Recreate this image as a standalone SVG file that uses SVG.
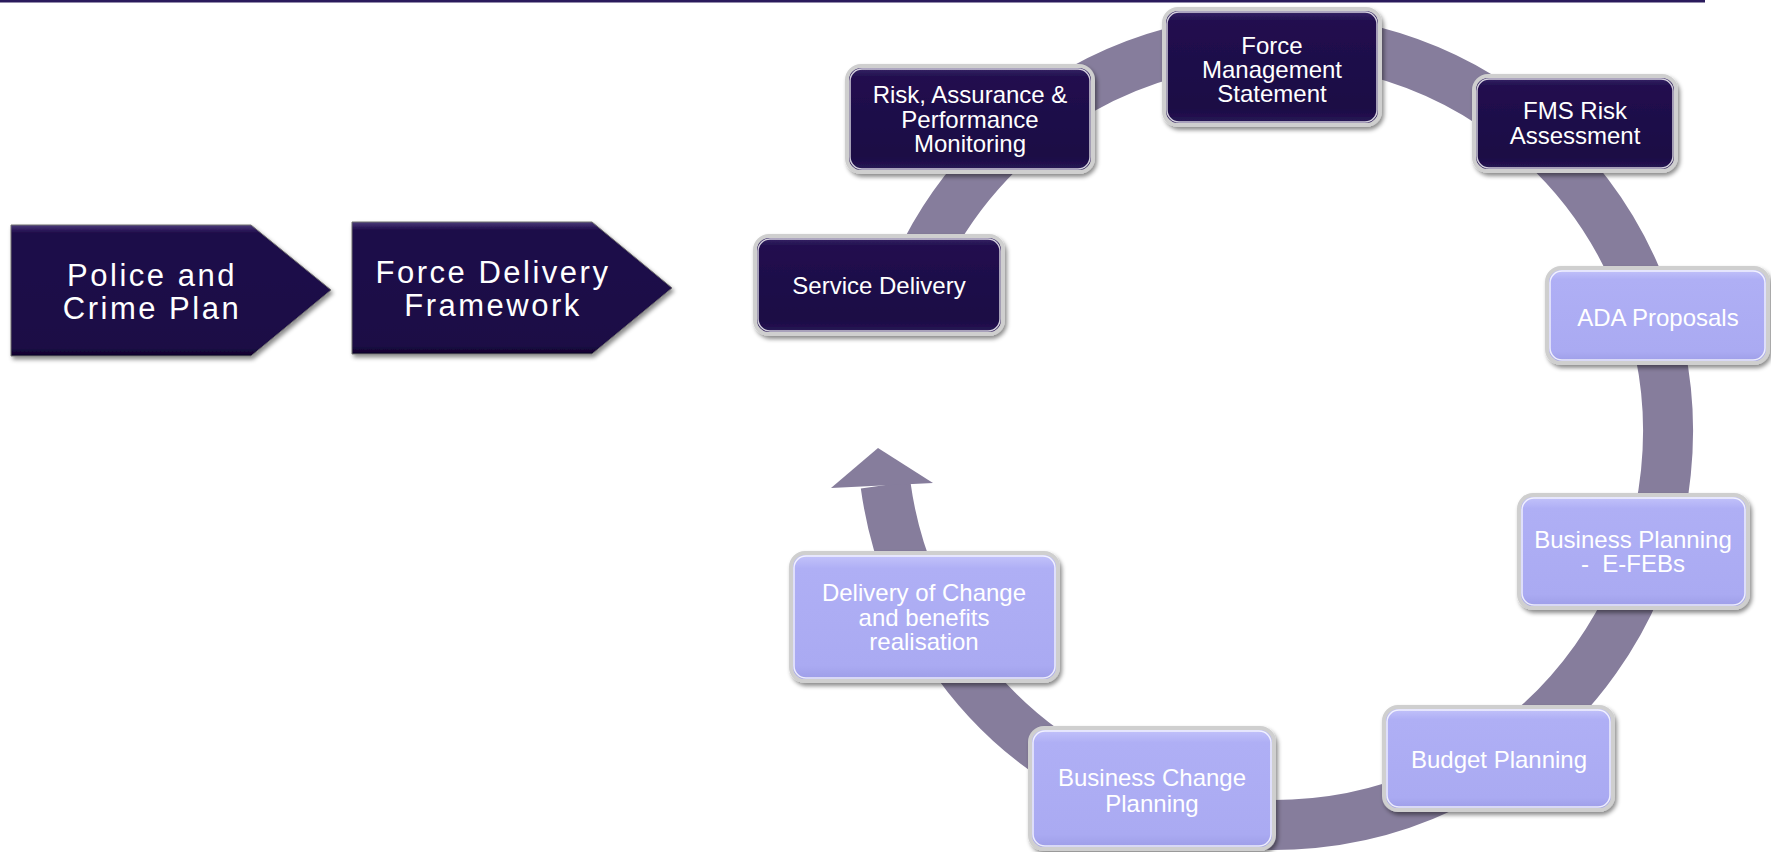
<svg xmlns="http://www.w3.org/2000/svg" width="1771" height="852" viewBox="0 0 1771 852">
<defs>
<linearGradient id="gd" x1="0" y1="0" x2="0" y2="1">
<stop offset="0" stop-color="#3b2b6c"/>
<stop offset="0.1" stop-color="#22104f"/>
<stop offset="0.85" stop-color="#1a0844"/>
<stop offset="1" stop-color="#2a1a58"/>
</linearGradient>
<linearGradient id="gl" x1="0" y1="0" x2="0" y2="1">
<stop offset="0" stop-color="#c6c6fb"/>
<stop offset="0.12" stop-color="#afaff5"/>
<stop offset="0.88" stop-color="#aaaaf2"/>
<stop offset="1" stop-color="#9c9ce6"/>
</linearGradient>
<linearGradient id="ga" x1="0" y1="0" x2="0" y2="1">
<stop offset="0" stop-color="#4a3a7a"/>
<stop offset="0.06" stop-color="#1e0b4a"/>
<stop offset="0.94" stop-color="#1b0945"/>
<stop offset="1" stop-color="#0e0428"/>
</linearGradient>
<filter id="sh" x="-10%" y="-10%" width="125%" height="130%">
<feDropShadow dx="2" dy="3" stdDeviation="2" flood-color="#000" flood-opacity="0.45"/>
</filter>
</defs>
<style>
.ring{fill:none;stroke:#867d9c;stroke-width:50}
.head{fill:#867d9c}
.bd{fill:url(#gd);stroke:#cfcfcf;stroke-width:4;filter:url(#sh)}
.bl{fill:url(#gl);stroke:#cfcfcf;stroke-width:4;filter:url(#sh)}
.rim{fill:none;stroke:#ffffff;stroke-width:1.5;opacity:0.8}
.arr{fill:url(#ga);stroke:#6e6e6e;stroke-width:1;filter:url(#sh)}
.t{font-family:"Liberation Sans",Arial,sans-serif;font-size:24px;fill:#ffffff;text-anchor:middle}
.ta{font-family:"Liberation Sans",Arial,sans-serif;font-size:31px;fill:#ffffff;text-anchor:middle;letter-spacing:2.5px}
</style>
<rect x="0" y="0" width="1705" height="2.5" fill="#2a1a5c"/>
<g id="connectors">
<path class="ring" d="M 904.8 300 A 393 393 0 1 1 885.6 485"/>
<polygon class="head" points="878,448 933,483 831,488"/>
</g>
<g id="police-crime-plan">
<polygon class="arr" points="11,225 251,225 331,290 251,356 11,356"/>
<text class="ta" x="152" y="286">Police and</text>
<text class="ta" x="152" y="319">Crime Plan</text>
</g>
<g id="force-delivery-framework">
<polygon class="arr" points="352,222 592,222 672,288 592,354 352,354"/>
<text class="ta" x="493" y="283">Force Delivery</text>
<text class="ta" x="493" y="316">Framework</text>
</g>
<g id="service-delivery">
<rect class="bd" x="755" y="236" width="248" height="98" rx="14"/>
<rect class="rim" x="758" y="239" width="242" height="92" rx="12"/>
<text class="t" x="879" y="293.5">Service Delivery</text>
</g>
<g id="risk-assurance">
<rect class="bd" x="847" y="66" width="246" height="106" rx="14"/>
<rect class="rim" x="850" y="69" width="240" height="100" rx="12"/>
<text class="t" x="970" y="103">Risk, Assurance &amp;</text>
<text class="t" x="970" y="127.5">Performance</text>
<text class="t" x="970" y="152">Monitoring</text>
</g>
<g id="force-management-statement">
<rect class="bd" x="1164" y="9" width="216" height="116" rx="14"/>
<rect class="rim" x="1167" y="12" width="210" height="110" rx="12"/>
<text class="t" x="1272" y="54">Force</text>
<text class="t" x="1272" y="78">Management</text>
<text class="t" x="1272" y="102">Statement</text>
</g>
<g id="fms-risk-assessment">
<rect class="bd" x="1474" y="76" width="202" height="95" rx="14"/>
<rect class="rim" x="1477" y="79" width="196" height="89" rx="12"/>
<text class="t" x="1575" y="119">FMS Risk</text>
<text class="t" x="1575" y="144">Assessment</text>
</g>
<g id="ada-proposals">
<rect class="bl" x="1547" y="268" width="221" height="95" rx="14"/>
<rect class="rim" x="1550" y="271" width="215" height="89" rx="12"/>
<text class="t" x="1658" y="325.5">ADA Proposals</text>
</g>
<g id="business-planning">
<rect class="bl" x="1519" y="495" width="229" height="113" rx="14"/>
<rect class="rim" x="1522" y="498" width="223" height="107" rx="12"/>
<text class="t" x="1633" y="547.5">Business Planning</text>
<text class="t" x="1633" y="571.5">-&#160;&#160;E-FEBs</text>
</g>
<g id="budget-planning">
<rect class="bl" x="1384" y="707" width="229" height="103" rx="14"/>
<rect class="rim" x="1387" y="710" width="223" height="97" rx="12"/>
<text class="t" x="1499" y="767.5">Budget Planning</text>
</g>
<g id="business-change-planning">
<rect class="bl" x="1030" y="728" width="244" height="121" rx="14"/>
<rect class="rim" x="1033" y="731" width="238" height="115" rx="12"/>
<text class="t" x="1152" y="785.5">Business Change</text>
<text class="t" x="1152" y="811.5">Planning</text>
</g>
<g id="delivery-of-change">
<rect class="bl" x="791" y="553" width="267" height="128" rx="14"/>
<rect class="rim" x="794" y="556" width="261" height="122" rx="12"/>
<text class="t" x="924" y="600.5">Delivery of Change</text>
<text class="t" x="924" y="625.5">and benefits</text>
<text class="t" x="924" y="649.5">realisation</text>
</g>
</svg>
